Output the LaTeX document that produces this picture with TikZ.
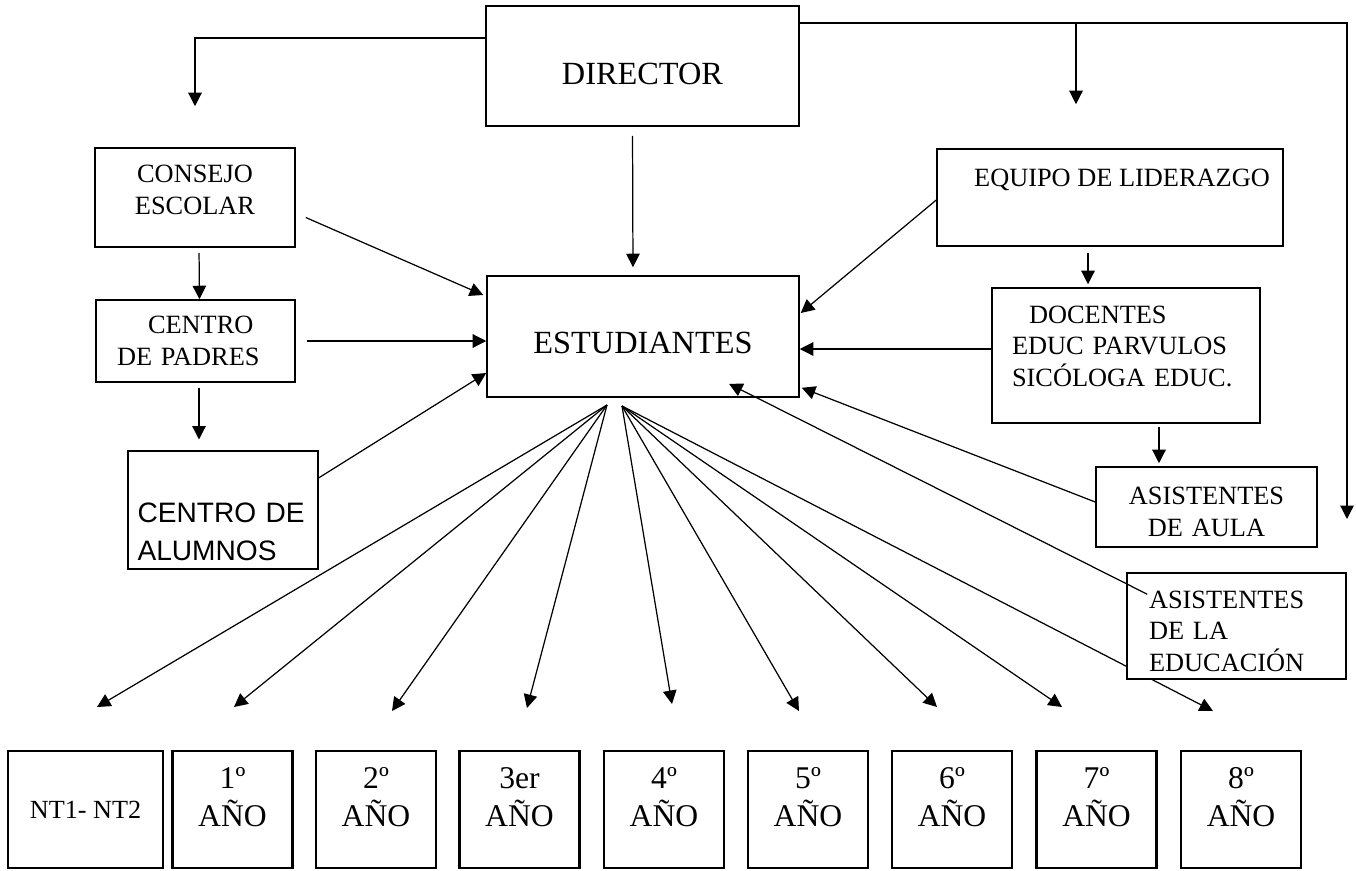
\documentclass[tikz,border=0pt]{standalone}
\usepackage{fontspec}
\setmainfont{Liberation Serif}
\newfontfamily\arialfont{Liberation Sans}
\usetikzlibrary{arrows.meta}
\tikzset{
    frame/.style={
        rectangle, draw, line width=0.9pt, fill=white,
        inner sep=0pt, align=center,
        font=\fontsize{15}{18}\selectfont,
    },
    bigframe/.style={
        frame,
        font=\fontsize{18.4}{22}\selectfont,
        text depth=0pt,
    },
    yearbox/.style={
        frame, line width=1.4pt,
        minimum width=2.4cm, minimum height=2.34cm, text width=2.2cm,
        font=\fontsize{18}{22}\selectfont,
        text height=4.3mm, text depth=12.8mm,
    },
    line/.style={
        draw, line width=0.7pt, -{Triangle[length=2.7mm,width=2.7mm]},
    },
}

\begin{document}
\begin{tikzpicture}[x=0.02cm, y=-0.02cm]
                \useasboundingbox (0,0) rectangle (1356,870);
                \node [bigframe, minimum width=6.26cm, minimum height=2.4cm, text height=7.5mm] (director) at (642.5,66) {DIRECTOR};
                \node [bigframe, minimum width=6.24cm, minimum height=2.42cm, text height=6.8mm] (estudiantes) at (643,336.5) {ESTUDIANTES};
                \node [frame, minimum width=4cm, minimum height=1.98cm, text width=3.8cm, text height=3.5mm, text depth=9.4mm] (consejo) at (195,197.5) {CONSEJO\\ESCOLAR};
                \node [frame, minimum width=3.98cm, minimum height=1.64cm, align=left, text width=3.14cm] (padres) at (195.5,341) {\hspace*{6.2mm}CENTRO\\DE~PADRES};
                \node [frame, line width=0.6pt, minimum width=3.8cm, minimum height=2.36cm, align=left, text width=3.42cm,
                    font=\arialfont\fontsize{16}{21.5}\selectfont, text height=12.6mm, text depth=7.6mm] (alumnos) at (223,510) {CENTRO~DE\\ALUMNOS};
                \node [frame, minimum width=6.92cm, minimum height=1.94cm, text height=3.5mm, text depth=7.8mm] (equipo) at (1110,197.5) {\hspace*{4.8mm}EQUIPO DE LIDERAZGO};
                \node [frame, minimum width=5.36cm, minimum height=2.7cm, align=left, text width=4.56cm, text height=3.5mm, text depth=16.5mm] (docentes) at (1126,355.5) {\hspace*{3.4mm}DOCENTES\\EDUC~PARVULOS\\SICÓLOGA~EDUC.};
                \node [frame, minimum width=4.42cm, minimum height=1.6cm, text width=4.2cm, text height=5.5mm, text depth=6.4mm] (aula) at (1206.5,507) {ASISTENTES\\DE~AULA};
                \node [frame, line width=0.6pt, minimum width=3.1cm, minimum height=2.34cm, font=\fontsize{14.9}{18}\selectfont] (nt) at (85.5,809.5) {NT1- NT2};
                \foreach \n/\x/\lbl in {1/232.5/1º,2/376/2º,3/519.5/3er,4/664/4º,5/808/5º,6/952/6º,7/1096.5/7º,8/1241/8º}
                    \node [yearbox] (year\n) at (\x,809.5) {\lbl\\AÑO};
                \coordinate (fanL) at (607,405);
                \coordinate (fanR) at (622,406);
                \foreach \n/\tx/\ty/\src in {nt/97/707/fanL,1/234/707/fanL,2/392/711/fanL,3/527/708/fanL,4/672/704/fanR,5/799/711/fanR,6/937/707/fanR,7/1062/707/fanR,8/1213/711/fanR}{
                    \coordinate (tip\n) at (\tx,\ty);
                    \draw[line] (\src) -- (tip\n);
                }
                \node [frame, minimum width=4.38cm, minimum height=2.12cm, align=left, text width=3.5cm, text height=5.5mm, text depth=12.7mm] (educacion) at (1236.5,626) {ASISTENTES\\DE LA\\EDUCACIÓN};
                \coordinate (split) at (1076,23);
                \coordinate (rightend) at (1347,519);
                \draw[line, shorten >=0.82cm] ([yshift=0.56cm]director.west) -| (consejo.north);
                \draw[line] ([yshift=0.86cm]director.east) -| (rightend);
                \draw[line, shorten >=0.88cm] (split) -- (split |- equipo.north);
                \draw[line, shorten <=0.18cm, shorten >=0.16cm] ([xshift=-0.2cm]director.south) -- ([xshift=-0.2cm]estudiantes.north);
                \draw[line] ([shift={(10,20)}]consejo.east) -- ([shift={(-3,-41.5)}]estudiantes.west);
                \draw[line] ([xshift=0.22cm]padres.east) -- (padres.east -| estudiantes.west);
                \draw[line] ([shift={(0,-32)}]alumnos.east) -- ([shift={(0,36.5)}]estudiantes.west);
                \draw[line, shorten <=0.1cm] ([xshift=0.08cm]consejo.south) -- ([xshift=0.08cm]padres.north);
                \draw[line, shorten <=0.1cm, shorten >=0.22cm] ([xshift=0.07cm]padres.south) -- ([xshift=0.07cm]padres.south |- alumnos.north);
                \draw[line] ([shift={(0,2.5)}]equipo.west) -- ([shift={(1,-23.5)}]estudiantes.east);
                \draw[line, shorten <=0.12cm, shorten >=0.06cm] ([xshift=-0.44cm]equipo.south) -- ([xshift=-0.44cm]equipo.south |- docentes.north);
                \draw[line] ([yshift=0.13cm]docentes.west) -- ([yshift=0.13cm]docentes.west -| estudiantes.east);
                \draw[line, shorten <=0.06cm, shorten >=0.06cm] ([xshift=0.66cm]docentes.south) -- ([xshift=0.66cm]docentes.south |- aula.north);
                \draw[line] ([yshift=0.1cm]aula.west) -- ([shift={(2,-10)}]estudiantes.south east);
                \draw[line] ([shift={(21,22)}]educacion.north west) -- ([shift={(86,-14)}]estudiantes.south);
            \end{tikzpicture}
\end{document}
